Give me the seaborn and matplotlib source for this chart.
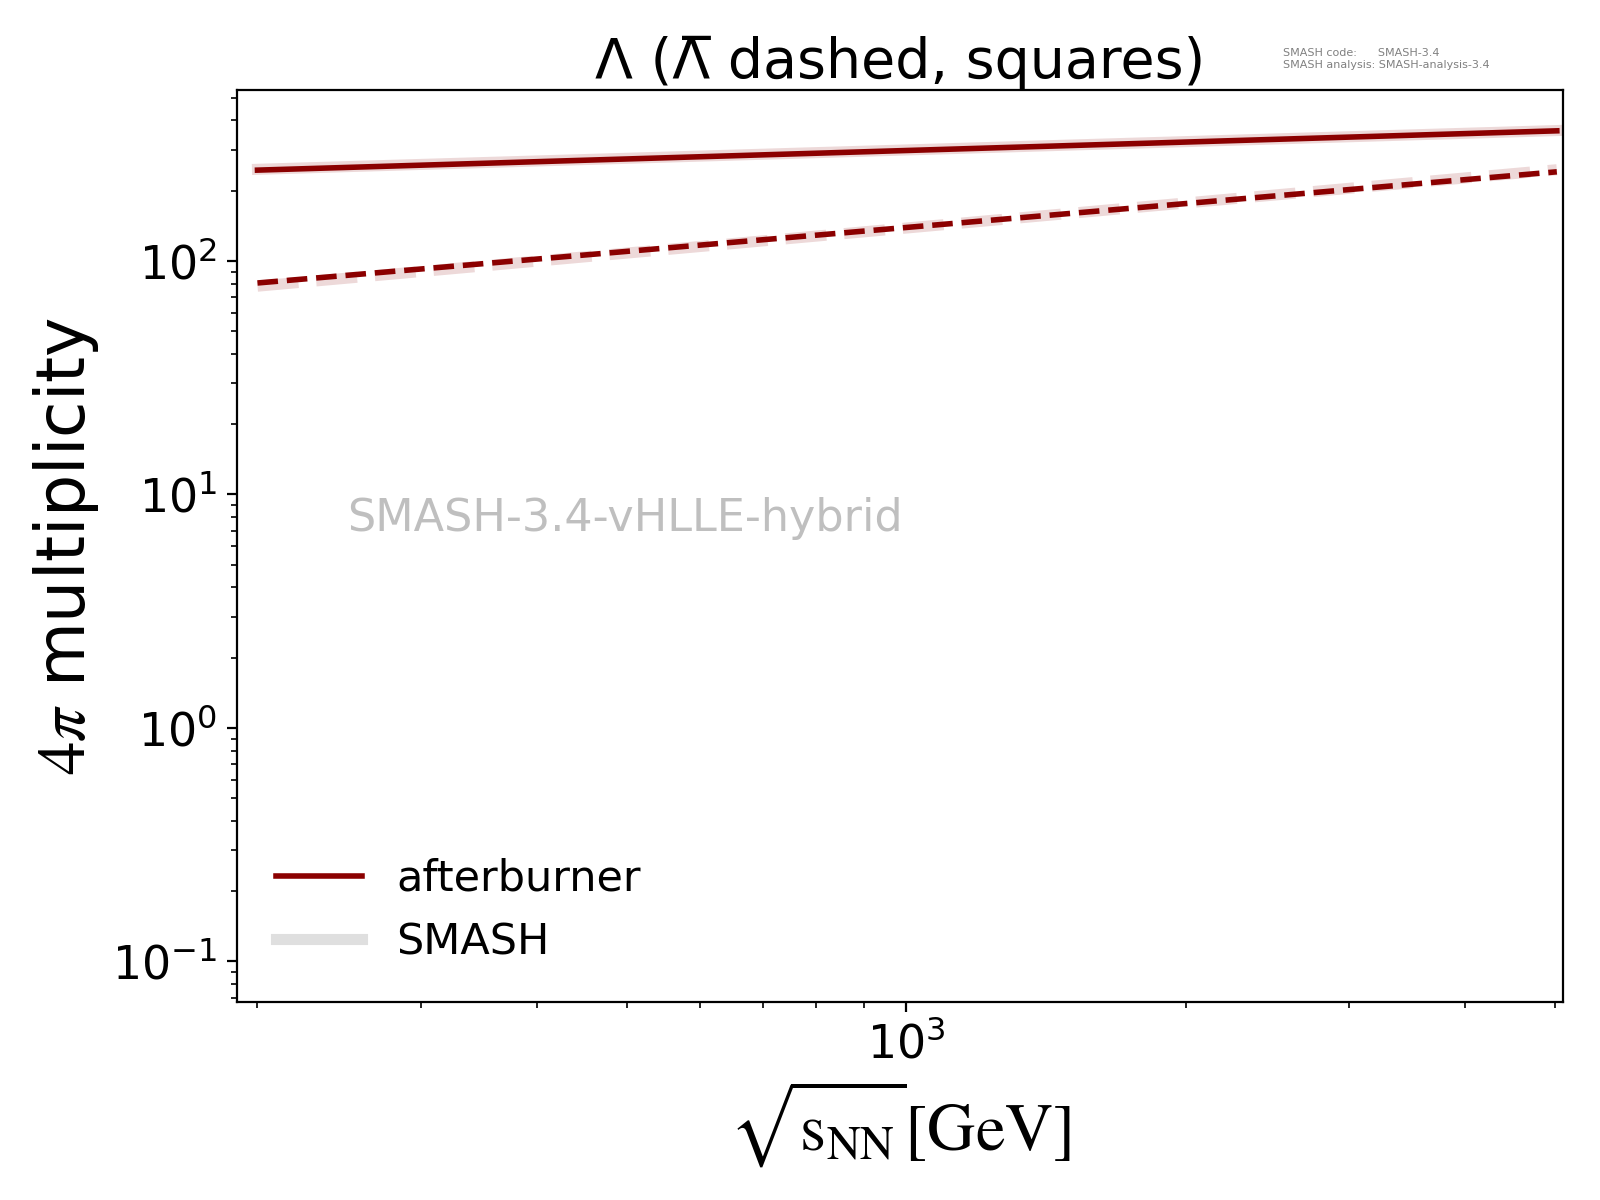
import numpy as np
import pandas as pd
import seaborn as sns
import matplotlib.pyplot as plt
from matplotlib.lines import Line2D

# sqrt(s_NN) in GeV and 4pi multiplicities
energy = [200, 5020]
lambda_afterburner = [245, 361]
antilambda_afterburner = [80.5, 241]
lambda_smash = [247, 362]
antilambda_smash = [78, 246]

df = pd.DataFrame({
    "energy": energy,
    "lam_ab": lambda_afterburner,
    "alam_ab": antilambda_afterburner,
    "lam_sm": lambda_smash,
    "alam_sm": antilambda_smash,
})

fig, ax = plt.subplots(figsize=(8, 6), dpi=200)
fig.subplots_adjust(left=0.148, right=0.977, bottom=0.165, top=0.925)

# SMASH first, thick and faint, afterburner on top
sns.lineplot(data=df, x="energy", y="lam_sm", ax=ax, color="darkred", alpha=0.15, lw=4)
sns.lineplot(data=df, x="energy", y="alam_sm", ax=ax, color="darkred", alpha=0.15, lw=4, linestyle="--")
sns.lineplot(data=df, x="energy", y="lam_ab", ax=ax, color="darkred", lw=2)
sns.lineplot(data=df, x="energy", y="alam_ab", ax=ax, color="darkred", lw=2, linestyle="--")

ax.set_xscale("log")
ax.set_yscale("log")
ax.set_xlim(190, 5100)
ax.set_ylim(0.067, 540)
ax.tick_params(labelsize=16.5)

ax.set_title("\u039b (\u039b\u0305 dashed, squares)", fontsize=20, pad=4)
ax.set_xlabel(r"$\sqrt{\mathrm{s}_{\mathrm{NN}}}[\mathrm{GeV}]$", fontsize=24, math_fontfamily="stix")
ax.set_ylabel(r"$4\pi$ multiplicity", fontsize=24, math_fontfamily="stix")

ax.text(0.083, 0.53, "SMASH-3.4-vHLLE-hybrid", transform=ax.transAxes,
        fontsize=16, color="gray", alpha=0.5, va="center")
fig.text(0.802, 0.96, "SMASH code:      SMASH-3.4\nSMASH analysis: SMASH-analysis-3.4",
         fontsize=4, color="gray", va="top")

handles = [Line2D([], [], color="darkred", lw=2, label="afterburner"),
           Line2D([], [], color="gray", alpha=0.25, lw=4, label="SMASH")]
ax.legend(handles=handles, loc="lower left", frameon=False, fontsize=15.5)

fig.savefig("out.png", dpi=200)
